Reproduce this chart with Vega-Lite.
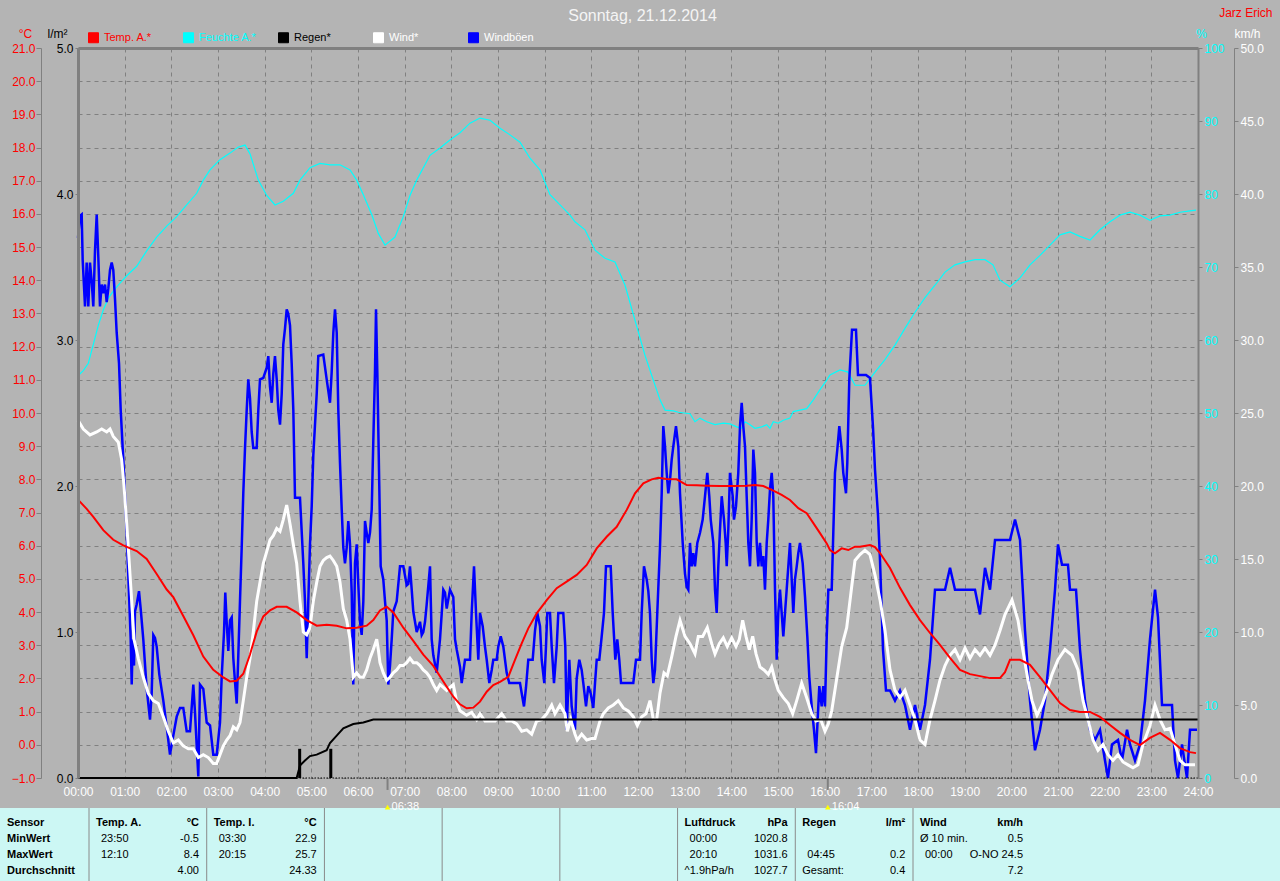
{
"$schema": "https://vega.github.io/schema/vega-lite/v6.json",
"autosize": "none",
"width": 1120,
"height": 730,
"padding": {"left": 78, "top": 48, "right": 82, "bottom": 103},
"background": "#b4b4b4",
"config": {"view": {"stroke": null}, "font": "Liberation Sans", "axis": {"labelFont": "Liberation Sans", "titleFont": "Liberation Sans"}, "text": {"font": "Liberation Sans"}},
"datasets": {
"temp": [{"h":0,"v":7.39},{"h":0.186,"v":7.11},{"h":0.328,"v":6.87},{"h":0.542,"v":6.47},{"h":0.756,"v":6.18},{"h":0.971,"v":6.01},{"h":1.258,"v":5.84},{"h":1.472,"v":5.6},{"h":1.686,"v":5.15},{"h":1.901,"v":4.68},{"h":2.042,"v":4.45},{"h":2.256,"v":3.88},{"h":2.471,"v":3.3},{"h":2.685,"v":2.66},{"h":2.899,"v":2.26},{"h":3.114,"v":2.03},{"h":3.257,"v":1.91},{"h":3.401,"v":1.93},{"h":3.542,"v":2.14},{"h":3.686,"v":2.72},{"h":3.829,"v":3.41},{"h":3.971,"v":3.87},{"h":4.114,"v":4.05},{"h":4.258,"v":4.16},{"h":4.472,"v":4.16},{"h":4.686,"v":3.99},{"h":4.901,"v":3.76},{"h":5.115,"v":3.59},{"h":5.329,"v":3.62},{"h":5.544,"v":3.59},{"h":5.758,"v":3.51},{"h":5.972,"v":3.53},{"h":6.186,"v":3.59},{"h":6.328,"v":3.76},{"h":6.471,"v":4.05},{"h":6.615,"v":4.16},{"h":6.756,"v":3.99},{"h":6.971,"v":3.53},{"h":7.185,"v":3.13},{"h":7.399,"v":2.72},{"h":7.614,"v":2.38},{"h":7.828,"v":1.91},{"h":8.042,"v":1.45},{"h":8.186,"v":1.22},{"h":8.329,"v":1.1},{"h":8.471,"v":1.12},{"h":8.614,"v":1.3},{"h":8.758,"v":1.6},{"h":8.899,"v":1.8},{"h":9.043,"v":1.9},{"h":9.221,"v":2.05},{"h":9.364,"v":2.56},{"h":9.508,"v":3.06},{"h":9.649,"v":3.51},{"h":9.829,"v":3.96},{"h":10.044,"v":4.36},{"h":10.258,"v":4.72},{"h":10.472,"v":4.92},{"h":10.686,"v":5.12},{"h":10.901,"v":5.42},{"h":11.115,"v":5.92},{"h":11.329,"v":6.27},{"h":11.544,"v":6.57},{"h":11.758,"v":7.08},{"h":11.936,"v":7.58},{"h":12.114,"v":7.88},{"h":12.294,"v":8.0},{"h":12.435,"v":8.05},{"h":12.615,"v":8.01},{"h":12.829,"v":8.0},{"h":13.044,"v":7.83},{"h":13.258,"v":7.82},{"h":13.472,"v":7.81},{"h":13.757,"v":7.8},{"h":14.042,"v":7.8},{"h":14.329,"v":7.81},{"h":14.507,"v":7.83},{"h":14.685,"v":7.8},{"h":14.899,"v":7.66},{"h":15.079,"v":7.53},{"h":15.257,"v":7.38},{"h":15.435,"v":7.13},{"h":15.615,"v":6.98},{"h":15.757,"v":6.68},{"h":15.9,"v":6.38},{"h":16.044,"v":6.07},{"h":16.114,"v":5.87},{"h":16.221,"v":5.77},{"h":16.365,"v":5.92},{"h":16.506,"v":5.87},{"h":16.65,"v":5.97},{"h":16.757,"v":5.97},{"h":16.971,"v":6.02},{"h":17.079,"v":5.96},{"h":17.186,"v":5.78},{"h":17.4,"v":5.33},{"h":17.614,"v":4.73},{"h":17.829,"v":4.21},{"h":18.043,"v":3.76},{"h":18.257,"v":3.37},{"h":18.471,"v":3.01},{"h":18.686,"v":2.62},{"h":18.9,"v":2.26},{"h":19.114,"v":2.13},{"h":19.329,"v":2.07},{"h":19.543,"v":2.01},{"h":19.757,"v":2.01},{"h":19.864,"v":2.19},{"h":19.971,"v":2.56},{"h":20.186,"v":2.56},{"h":20.4,"v":2.41},{"h":20.614,"v":2.04},{"h":20.829,"v":1.65},{"h":21.043,"v":1.26},{"h":21.257,"v":1.05},{"h":21.471,"v":0.99},{"h":21.686,"v":0.99},{"h":21.9,"v":0.84},{"h":22.114,"v":0.6},{"h":22.329,"v":0.36},{"h":22.543,"v":0.15},{"h":22.757,"v":-0.01},{"h":22.971,"v":0.21},{"h":23.186,"v":0.36},{"h":23.4,"v":0.15},{"h":23.614,"v":-0.1},{"h":23.829,"v":-0.22},{"h":23.957,"v":-0.25}],
"hum": [{"h":0,"v":55.1},{"h":0.114,"v":55.8},{"h":0.221,"v":56.8},{"h":0.328,"v":59.4},{"h":0.435,"v":62.0},{"h":0.542,"v":64.1},{"h":0.649,"v":65.7},{"h":0.756,"v":66.7},{"h":0.9,"v":67.8},{"h":1.044,"v":68.8},{"h":1.258,"v":70.1},{"h":1.472,"v":72.2},{"h":1.686,"v":74.1},{"h":1.901,"v":75.6},{"h":2.115,"v":76.9},{"h":2.329,"v":78.5},{"h":2.544,"v":80.1},{"h":2.685,"v":81.9},{"h":2.829,"v":83.3},{"h":3.043,"v":84.7},{"h":3.257,"v":85.6},{"h":3.429,"v":86.4},{"h":3.579,"v":86.7},{"h":3.686,"v":85.5},{"h":3.864,"v":81.9},{"h":4.044,"v":79.8},{"h":4.221,"v":78.5},{"h":4.399,"v":79.0},{"h":4.614,"v":80.1},{"h":4.757,"v":81.9},{"h":4.971,"v":83.6},{"h":5.186,"v":84.2},{"h":5.4,"v":84.0},{"h":5.614,"v":84.0},{"h":5.829,"v":83.3},{"h":5.972,"v":81.9},{"h":6.114,"v":79.9},{"h":6.294,"v":77.2},{"h":6.435,"v":74.6},{"h":6.579,"v":73.0},{"h":6.793,"v":74.1},{"h":6.971,"v":76.9},{"h":7.114,"v":79.8},{"h":7.258,"v":81.9},{"h":7.543,"v":85.3},{"h":7.757,"v":86.3},{"h":7.971,"v":87.4},{"h":8.186,"v":88.4},{"h":8.4,"v":89.7},{"h":8.614,"v":90.4},{"h":8.829,"v":90.1},{"h":9.043,"v":89.0},{"h":9.257,"v":88.1},{"h":9.471,"v":87.1},{"h":9.686,"v":84.9},{"h":9.9,"v":83.3},{"h":10.114,"v":79.9},{"h":10.329,"v":78.5},{"h":10.543,"v":77.1},{"h":10.65,"v":76.2},{"h":10.864,"v":75.1},{"h":11.079,"v":72.3},{"h":11.293,"v":71.2},{"h":11.507,"v":70.7},{"h":11.722,"v":67.5},{"h":11.936,"v":62.7},{"h":12.15,"v":57.9},{"h":12.328,"v":54.5},{"h":12.471,"v":51.8},{"h":12.579,"v":50.4},{"h":12.756,"v":50.3},{"h":12.864,"v":50.1},{"h":13.114,"v":49.9},{"h":13.221,"v":48.8},{"h":13.329,"v":49.3},{"h":13.472,"v":48.8},{"h":13.65,"v":48.4},{"h":13.828,"v":48.6},{"h":13.971,"v":48.5},{"h":14.115,"v":48.1},{"h":14.222,"v":47.9},{"h":14.293,"v":48.8},{"h":14.4,"v":48.4},{"h":14.507,"v":47.9},{"h":14.651,"v":48.1},{"h":14.758,"v":48.4},{"h":14.829,"v":47.9},{"h":14.899,"v":48.8},{"h":15.006,"v":48.6},{"h":15.114,"v":49.0},{"h":15.257,"v":49.3},{"h":15.328,"v":50.2},{"h":15.471,"v":50.4},{"h":15.615,"v":50.6},{"h":15.757,"v":51.8},{"h":15.9,"v":53.2},{"h":16.044,"v":54.5},{"h":16.114,"v":55.2},{"h":16.329,"v":55.9},{"h":16.5,"v":55.6},{"h":16.65,"v":53.8},{"h":16.864,"v":53.8},{"h":17.079,"v":55.6},{"h":17.293,"v":57.3},{"h":17.507,"v":59.3},{"h":17.721,"v":61.6},{"h":17.936,"v":63.8},{"h":18.15,"v":65.8},{"h":18.364,"v":67.5},{"h":18.579,"v":69.3},{"h":18.793,"v":70.3},{"h":19.007,"v":70.7},{"h":19.221,"v":71.0},{"h":19.436,"v":71.0},{"h":19.607,"v":70.3},{"h":19.757,"v":68.2},{"h":19.971,"v":67.3},{"h":20.186,"v":68.5},{"h":20.4,"v":70.3},{"h":20.614,"v":71.6},{"h":20.829,"v":73.0},{"h":21.043,"v":74.4},{"h":21.257,"v":74.8},{"h":21.471,"v":74.2},{"h":21.686,"v":73.7},{"h":21.9,"v":75.1},{"h":22.114,"v":76.2},{"h":22.329,"v":77.1},{"h":22.543,"v":77.5},{"h":22.757,"v":77.1},{"h":22.971,"v":76.4},{"h":23.186,"v":77.0},{"h":23.4,"v":77.1},{"h":23.614,"v":77.5},{"h":23.829,"v":77.7},{"h":23.957,"v":77.8}],
"wind": [{"h":0,"v":24.5},{"h":0.114,"v":23.9},{"h":0.257,"v":23.5},{"h":0.401,"v":23.7},{"h":0.508,"v":23.9},{"h":0.615,"v":23.7},{"h":0.686,"v":23.9},{"h":0.756,"v":23.4},{"h":0.864,"v":23.0},{"h":0.936,"v":21.8},{"h":0.986,"v":20.0},{"h":1.044,"v":17.4},{"h":1.099,"v":14.7},{"h":1.151,"v":12.1},{"h":1.2,"v":9.5},{"h":1.292,"v":8.2},{"h":1.399,"v":6.9},{"h":1.506,"v":5.8},{"h":1.614,"v":5.3},{"h":1.721,"v":5.1},{"h":1.828,"v":4.2},{"h":1.935,"v":3.2},{"h":2.042,"v":2.4},{"h":2.149,"v":2.6},{"h":2.256,"v":2.2},{"h":2.364,"v":2.0},{"h":2.471,"v":2.0},{"h":2.578,"v":1.4},{"h":2.685,"v":1.6},{"h":2.792,"v":1.4},{"h":2.899,"v":1.0},{"h":2.972,"v":1.0},{"h":3.043,"v":1.6},{"h":3.114,"v":2.2},{"h":3.186,"v":2.6},{"h":3.257,"v":2.9},{"h":3.328,"v":3.5},{"h":3.401,"v":3.3},{"h":3.471,"v":3.8},{"h":3.542,"v":5.3},{"h":3.615,"v":6.9},{"h":3.686,"v":8.2},{"h":3.756,"v":10.0},{"h":3.829,"v":12.1},{"h":3.9,"v":13.4},{"h":3.971,"v":14.7},{"h":4.044,"v":15.5},{"h":4.114,"v":16.3},{"h":4.185,"v":16.6},{"h":4.258,"v":17.1},{"h":4.329,"v":16.9},{"h":4.399,"v":17.7},{"h":4.472,"v":18.7},{"h":4.543,"v":17.4},{"h":4.614,"v":16.0},{"h":4.686,"v":14.7},{"h":4.757,"v":12.1},{"h":4.828,"v":10.0},{"h":4.901,"v":9.8},{"h":4.971,"v":10.3},{"h":5.042,"v":12.1},{"h":5.115,"v":13.4},{"h":5.186,"v":14.5},{"h":5.256,"v":14.9},{"h":5.329,"v":15.1},{"h":5.4,"v":15.2},{"h":5.471,"v":14.9},{"h":5.544,"v":14.5},{"h":5.614,"v":13.4},{"h":5.685,"v":11.6},{"h":5.758,"v":10.8},{"h":5.829,"v":9.5},{"h":5.899,"v":6.9},{"h":5.972,"v":7.2},{"h":6.043,"v":6.9},{"h":6.114,"v":6.9},{"h":6.186,"v":7.4},{"h":6.257,"v":8.2},{"h":6.328,"v":8.8},{"h":6.401,"v":9.5},{"h":6.435,"v":8.8},{"h":6.471,"v":7.9},{"h":6.542,"v":7.2},{"h":6.615,"v":6.7},{"h":6.686,"v":6.9},{"h":6.756,"v":7.2},{"h":6.829,"v":7.4},{"h":6.9,"v":7.7},{"h":6.971,"v":7.7},{"h":7.044,"v":7.9},{"h":7.114,"v":8.2},{"h":7.185,"v":7.9},{"h":7.258,"v":7.9},{"h":7.329,"v":7.7},{"h":7.399,"v":7.4},{"h":7.472,"v":7.2},{"h":7.543,"v":6.9},{"h":7.614,"v":6.4},{"h":7.686,"v":6.0},{"h":7.757,"v":6.4},{"h":7.828,"v":6.2},{"h":7.901,"v":6.0},{"h":7.971,"v":6.2},{"h":8.042,"v":6.4},{"h":8.115,"v":5.2},{"h":8.186,"v":4.6},{"h":8.329,"v":4.3},{"h":8.436,"v":4.5},{"h":8.544,"v":4.0},{"h":8.614,"v":4.4},{"h":8.721,"v":3.9},{"h":8.936,"v":3.9},{"h":9.079,"v":4.4},{"h":9.186,"v":3.9},{"h":9.294,"v":3.9},{"h":9.401,"v":3.7},{"h":9.508,"v":3.2},{"h":9.615,"v":3.3},{"h":9.722,"v":3.0},{"h":9.829,"v":3.9},{"h":9.936,"v":4.0},{"h":10.044,"v":4.4},{"h":10.151,"v":5.0},{"h":10.221,"v":4.4},{"h":10.329,"v":5.0},{"h":10.436,"v":4.4},{"h":10.485,"v":3.2},{"h":10.558,"v":4.0},{"h":10.65,"v":3.0},{"h":10.699,"v":2.6},{"h":10.793,"v":3.0},{"h":10.901,"v":2.6},{"h":11.008,"v":2.7},{"h":11.079,"v":2.7},{"h":11.186,"v":3.9},{"h":11.256,"v":4.4},{"h":11.364,"v":4.8},{"h":11.471,"v":5.0},{"h":11.578,"v":5.3},{"h":11.685,"v":4.8},{"h":11.792,"v":4.6},{"h":11.899,"v":4.2},{"h":11.985,"v":3.6},{"h":12.079,"v":4.2},{"h":12.171,"v":4.4},{"h":12.257,"v":5.3},{"h":12.328,"v":4.0},{"h":12.401,"v":4.0},{"h":12.471,"v":5.8},{"h":12.557,"v":7.2},{"h":12.628,"v":7.0},{"h":12.722,"v":8.3},{"h":12.814,"v":9.7},{"h":12.9,"v":10.8},{"h":13.007,"v":9.7},{"h":13.114,"v":9.2},{"h":13.221,"v":8.5},{"h":13.292,"v":9.7},{"h":13.386,"v":9.7},{"h":13.485,"v":10.3},{"h":13.579,"v":9.2},{"h":13.65,"v":8.5},{"h":13.742,"v":9.2},{"h":13.828,"v":9.6},{"h":13.914,"v":9.0},{"h":14.008,"v":9.6},{"h":14.1,"v":9.0},{"h":14.171,"v":9.5},{"h":14.243,"v":10.8},{"h":14.314,"v":9.7},{"h":14.385,"v":8.8},{"h":14.457,"v":9.7},{"h":14.529,"v":8.5},{"h":14.614,"v":7.6},{"h":14.7,"v":7.4},{"h":14.792,"v":7.1},{"h":14.865,"v":7.6},{"h":14.936,"v":6.7},{"h":15.006,"v":6.0},{"h":15.114,"v":5.5},{"h":15.221,"v":5.1},{"h":15.315,"v":4.4},{"h":15.401,"v":5.3},{"h":15.508,"v":6.5},{"h":15.615,"v":5.5},{"h":15.722,"v":4.4},{"h":15.814,"v":3.9},{"h":15.915,"v":4.0},{"h":16.007,"v":3.2},{"h":16.078,"v":3.7},{"h":16.151,"v":4.6},{"h":16.258,"v":6.8},{"h":16.365,"v":9.0},{"h":16.472,"v":10.3},{"h":16.579,"v":13.1},{"h":16.65,"v":14.9},{"h":16.757,"v":15.3},{"h":16.864,"v":15.6},{"h":16.971,"v":15.3},{"h":17.079,"v":13.9},{"h":17.186,"v":12.2},{"h":17.293,"v":10.1},{"h":17.4,"v":7.4},{"h":17.507,"v":6.0},{"h":17.614,"v":5.5},{"h":17.721,"v":6.0},{"h":17.829,"v":5.0},{"h":17.936,"v":4.0},{"h":18.043,"v":2.6},{"h":18.15,"v":2.3},{"h":18.257,"v":4.0},{"h":18.364,"v":5.3},{"h":18.471,"v":6.7},{"h":18.579,"v":7.7},{"h":18.686,"v":8.4},{"h":18.793,"v":8.8},{"h":18.9,"v":8.1},{"h":19.007,"v":8.9},{"h":19.114,"v":8.2},{"h":19.221,"v":8.8},{"h":19.329,"v":8.4},{"h":19.436,"v":8.9},{"h":19.543,"v":8.4},{"h":19.65,"v":9.1},{"h":19.757,"v":10.1},{"h":19.864,"v":11.2},{"h":20.014,"v":12.2},{"h":20.143,"v":10.8},{"h":20.229,"v":9.1},{"h":20.357,"v":6.7},{"h":20.443,"v":5.3},{"h":20.55,"v":4.3},{"h":20.657,"v":5.0},{"h":20.764,"v":6.0},{"h":20.871,"v":7.1},{"h":21.0,"v":8.1},{"h":21.15,"v":8.8},{"h":21.3,"v":8.4},{"h":21.429,"v":7.4},{"h":21.536,"v":5.3},{"h":21.643,"v":4.0},{"h":21.75,"v":2.6},{"h":21.857,"v":1.9},{"h":21.964,"v":2.3},{"h":22.071,"v":1.6},{"h":22.178,"v":1.2},{"h":22.286,"v":1.6},{"h":22.393,"v":1.1},{"h":22.5,"v":0.9},{"h":22.607,"v":0.7},{"h":22.714,"v":0.9},{"h":22.821,"v":2.3},{"h":22.971,"v":3.6},{"h":23.079,"v":5.0},{"h":23.186,"v":4.0},{"h":23.293,"v":3.3},{"h":23.4,"v":3.4},{"h":23.507,"v":2.3},{"h":23.614,"v":1.2},{"h":23.721,"v":0.9},{"h":23.936,"v":0.9}],
"gust": [{"h":0,"v":37.0},{"h":0.043,"v":38.5},{"h":0.079,"v":38.6},{"h":0.1,"v":35.5},{"h":0.15,"v":32.3},{"h":0.186,"v":35.3},{"h":0.221,"v":32.3},{"h":0.257,"v":35.3},{"h":0.294,"v":34.0},{"h":0.328,"v":32.3},{"h":0.364,"v":36.1},{"h":0.401,"v":38.6},{"h":0.435,"v":35.7},{"h":0.471,"v":32.3},{"h":0.508,"v":33.8},{"h":0.542,"v":33.2},{"h":0.579,"v":33.8},{"h":0.615,"v":32.6},{"h":0.649,"v":33.5},{"h":0.686,"v":34.8},{"h":0.722,"v":35.3},{"h":0.756,"v":34.8},{"h":0.793,"v":32.8},{"h":0.829,"v":30.5},{"h":0.879,"v":28.4},{"h":0.915,"v":25.2},{"h":0.971,"v":21.8},{"h":1.044,"v":16.8},{"h":1.099,"v":12.1},{"h":1.129,"v":9.5},{"h":1.151,"v":6.4},{"h":1.172,"v":9.5},{"h":1.2,"v":7.7},{"h":1.221,"v":11.4},{"h":1.258,"v":11.9},{"h":1.307,"v":12.8},{"h":1.343,"v":11.6},{"h":1.399,"v":9.5},{"h":1.472,"v":6.1},{"h":1.543,"v":4.0},{"h":1.579,"v":5.8},{"h":1.614,"v":9.8},{"h":1.65,"v":9.6},{"h":1.686,"v":9.0},{"h":1.742,"v":7.1},{"h":1.828,"v":5.3},{"h":1.901,"v":3.5},{"h":1.971,"v":1.6},{"h":2.042,"v":2.9},{"h":2.115,"v":4.2},{"h":2.186,"v":4.8},{"h":2.256,"v":4.8},{"h":2.329,"v":3.2},{"h":2.4,"v":3.2},{"h":2.471,"v":6.4},{"h":2.507,"v":4.5},{"h":2.544,"v":2.2},{"h":2.578,"v":0.1},{"h":2.614,"v":6.4},{"h":2.685,"v":6.1},{"h":2.758,"v":3.8},{"h":2.829,"v":3.6},{"h":2.899,"v":1.6},{"h":2.972,"v":1.6},{"h":3.043,"v":3.8},{"h":3.079,"v":6.9},{"h":3.129,"v":10.0},{"h":3.156,"v":12.7},{"h":3.186,"v":10.7},{"h":3.221,"v":8.7},{"h":3.257,"v":10.8},{"h":3.294,"v":11.0},{"h":3.328,"v":8.2},{"h":3.364,"v":6.6},{"h":3.401,"v":5.1},{"h":3.435,"v":8.4},{"h":3.471,"v":12.1},{"h":3.508,"v":15.8},{"h":3.542,"v":19.5},{"h":3.579,"v":22.6},{"h":3.615,"v":25.2},{"h":3.649,"v":27.3},{"h":3.686,"v":26.0},{"h":3.722,"v":23.7},{"h":3.756,"v":22.6},{"h":3.829,"v":22.6},{"h":3.864,"v":25.2},{"h":3.9,"v":27.3},{"h":3.971,"v":27.4},{"h":4.044,"v":28.1},{"h":4.078,"v":28.9},{"h":4.114,"v":26.8},{"h":4.151,"v":25.7},{"h":4.185,"v":27.7},{"h":4.221,"v":28.9},{"h":4.258,"v":27.3},{"h":4.292,"v":25.2},{"h":4.329,"v":24.2},{"h":4.365,"v":26.3},{"h":4.399,"v":29.7},{"h":4.436,"v":30.8},{"h":4.472,"v":32.1},{"h":4.506,"v":31.8},{"h":4.543,"v":31.0},{"h":4.579,"v":28.4},{"h":4.614,"v":25.2},{"h":4.65,"v":19.2},{"h":4.757,"v":19.2},{"h":4.828,"v":14.7},{"h":4.864,"v":12.1},{"h":4.901,"v":8.2},{"h":4.935,"v":12.1},{"h":4.971,"v":16.0},{"h":5.008,"v":18.6},{"h":5.042,"v":22.1},{"h":5.115,"v":26.3},{"h":5.149,"v":28.9},{"h":5.256,"v":29.0},{"h":5.329,"v":27.3},{"h":5.4,"v":25.7},{"h":5.436,"v":27.8},{"h":5.471,"v":30.5},{"h":5.507,"v":32.1},{"h":5.544,"v":30.5},{"h":5.578,"v":25.2},{"h":5.614,"v":21.6},{"h":5.651,"v":18.4},{"h":5.685,"v":15.8},{"h":5.721,"v":14.7},{"h":5.758,"v":15.8},{"h":5.792,"v":17.6},{"h":5.829,"v":16.0},{"h":5.865,"v":12.7},{"h":5.899,"v":6.4},{"h":5.936,"v":14.7},{"h":5.972,"v":16.0},{"h":6.006,"v":13.3},{"h":6.043,"v":10.7},{"h":6.079,"v":9.8},{"h":6.114,"v":12.1},{"h":6.15,"v":17.6},{"h":6.186,"v":16.8},{"h":6.221,"v":16.1},{"h":6.257,"v":16.8},{"h":6.294,"v":18.4},{"h":6.328,"v":23.1},{"h":6.364,"v":27.8},{"h":6.386,"v":32.1},{"h":6.414,"v":27.8},{"h":6.456,"v":20.0},{"h":6.486,"v":14.5},{"h":6.542,"v":13.6},{"h":6.579,"v":12.1},{"h":6.615,"v":10.8},{"h":6.649,"v":6.4},{"h":6.686,"v":7.7},{"h":6.722,"v":9.5},{"h":6.756,"v":11.4},{"h":6.829,"v":12.1},{"h":6.9,"v":14.5},{"h":6.971,"v":14.5},{"h":7.044,"v":13.2},{"h":7.078,"v":13.3},{"h":7.114,"v":14.5},{"h":7.151,"v":12.9},{"h":7.185,"v":11.4},{"h":7.258,"v":10.0},{"h":7.329,"v":10.7},{"h":7.365,"v":9.8},{"h":7.399,"v":10.0},{"h":7.436,"v":10.7},{"h":7.472,"v":11.9},{"h":7.543,"v":14.5},{"h":7.579,"v":9.5},{"h":7.614,"v":8.4},{"h":7.686,"v":7.2},{"h":7.757,"v":9.5},{"h":7.828,"v":12.9},{"h":7.864,"v":12.7},{"h":7.901,"v":11.6},{"h":7.971,"v":12.9},{"h":8.042,"v":12.4},{"h":8.079,"v":9.5},{"h":8.115,"v":8.8},{"h":8.186,"v":7.6},{"h":8.222,"v":6.5},{"h":8.293,"v":8.1},{"h":8.4,"v":8.1},{"h":8.436,"v":11.3},{"h":8.486,"v":14.5},{"h":8.529,"v":11.3},{"h":8.578,"v":8.1},{"h":8.614,"v":11.3},{"h":8.672,"v":10.4},{"h":8.721,"v":9.0},{"h":8.758,"v":8.1},{"h":8.814,"v":6.5},{"h":8.865,"v":7.4},{"h":8.899,"v":8.1},{"h":8.972,"v":8.1},{"h":9.006,"v":9.0},{"h":9.058,"v":9.7},{"h":9.114,"v":9.0},{"h":9.186,"v":7.2},{"h":9.242,"v":6.5},{"h":9.471,"v":6.5},{"h":9.508,"v":5.8},{"h":9.557,"v":4.9},{"h":9.6,"v":6.2},{"h":9.649,"v":8.1},{"h":9.743,"v":8.1},{"h":9.793,"v":10.1},{"h":9.842,"v":11.3},{"h":9.9,"v":10.4},{"h":9.936,"v":8.1},{"h":9.992,"v":6.5},{"h":10.028,"v":9.0},{"h":10.056,"v":11.3},{"h":10.114,"v":11.3},{"h":10.151,"v":9.0},{"h":10.2,"v":6.5},{"h":10.258,"v":9.0},{"h":10.292,"v":11.3},{"h":10.399,"v":11.3},{"h":10.442,"v":9.0},{"h":10.472,"v":3.3},{"h":10.528,"v":8.1},{"h":10.579,"v":4.9},{"h":10.65,"v":3.3},{"h":10.686,"v":6.8},{"h":10.742,"v":8.1},{"h":10.793,"v":7.4},{"h":10.828,"v":6.5},{"h":10.886,"v":4.9},{"h":10.935,"v":6.3},{"h":10.986,"v":5.8},{"h":11.042,"v":4.8},{"h":11.079,"v":6.5},{"h":11.115,"v":8.1},{"h":11.171,"v":8.1},{"h":11.222,"v":9.7},{"h":11.271,"v":11.3},{"h":11.314,"v":14.5},{"h":11.415,"v":14.5},{"h":11.458,"v":11.3},{"h":11.486,"v":9.7},{"h":11.514,"v":8.1},{"h":11.556,"v":9.5},{"h":11.599,"v":8.1},{"h":11.636,"v":6.5},{"h":11.899,"v":6.5},{"h":11.957,"v":8.1},{"h":12.043,"v":8.1},{"h":12.079,"v":11.3},{"h":12.128,"v":14.5},{"h":12.186,"v":13.6},{"h":12.221,"v":12.8},{"h":12.257,"v":11.3},{"h":12.294,"v":8.1},{"h":12.328,"v":6.5},{"h":12.364,"v":7.4},{"h":12.413,"v":11.3},{"h":12.471,"v":15.8},{"h":12.508,"v":19.5},{"h":12.542,"v":24.1},{"h":12.579,"v":22.7},{"h":12.615,"v":20.9},{"h":12.649,"v":19.5},{"h":12.686,"v":20.4},{"h":12.722,"v":21.8},{"h":12.756,"v":22.7},{"h":12.814,"v":24.1},{"h":12.864,"v":22.7},{"h":12.9,"v":19.5},{"h":12.958,"v":16.1},{"h":13.007,"v":14.0},{"h":13.044,"v":13.1},{"h":13.078,"v":12.9},{"h":13.114,"v":16.1},{"h":13.151,"v":14.5},{"h":13.185,"v":15.4},{"h":13.221,"v":14.5},{"h":13.271,"v":16.1},{"h":13.329,"v":16.8},{"h":13.386,"v":17.7},{"h":13.436,"v":19.3},{"h":13.485,"v":20.9},{"h":13.528,"v":19.3},{"h":13.558,"v":17.7},{"h":13.614,"v":16.1},{"h":13.65,"v":12.9},{"h":13.686,"v":11.3},{"h":13.721,"v":14.5},{"h":13.757,"v":17.0},{"h":13.794,"v":19.3},{"h":13.843,"v":17.7},{"h":13.879,"v":16.1},{"h":13.901,"v":14.5},{"h":13.935,"v":17.0},{"h":13.971,"v":20.9},{"h":14.029,"v":19.3},{"h":14.057,"v":17.7},{"h":14.1,"v":18.6},{"h":14.149,"v":20.9},{"h":14.186,"v":24.1},{"h":14.222,"v":25.7},{"h":14.256,"v":24.1},{"h":14.293,"v":22.7},{"h":14.329,"v":19.3},{"h":14.364,"v":16.1},{"h":14.4,"v":14.5},{"h":14.436,"v":17.7},{"h":14.471,"v":22.5},{"h":14.507,"v":20.9},{"h":14.544,"v":16.1},{"h":14.578,"v":14.5},{"h":14.614,"v":16.1},{"h":14.651,"v":14.5},{"h":14.685,"v":15.2},{"h":14.721,"v":12.9},{"h":14.758,"v":16.1},{"h":14.792,"v":17.7},{"h":14.829,"v":19.8},{"h":14.865,"v":20.9},{"h":14.899,"v":19.3},{"h":14.936,"v":12.9},{"h":14.972,"v":8.1},{"h":15.006,"v":11.3},{"h":15.043,"v":12.9},{"h":15.079,"v":11.3},{"h":15.114,"v":9.7},{"h":15.15,"v":11.3},{"h":15.186,"v":12.9},{"h":15.221,"v":14.5},{"h":15.257,"v":16.1},{"h":15.294,"v":13.6},{"h":15.328,"v":11.3},{"h":15.364,"v":13.6},{"h":15.401,"v":14.5},{"h":15.435,"v":15.4},{"h":15.471,"v":16.1},{"h":15.529,"v":14.7},{"h":15.579,"v":12.4},{"h":15.628,"v":9.7},{"h":15.671,"v":6.9},{"h":15.722,"v":4.9},{"h":15.771,"v":3.3},{"h":15.814,"v":1.7},{"h":15.842,"v":3.5},{"h":15.885,"v":6.3},{"h":15.936,"v":4.9},{"h":15.97,"v":6.3},{"h":16.007,"v":4.9},{"h":16.044,"v":9.7},{"h":16.078,"v":12.9},{"h":16.151,"v":12.9},{"h":16.185,"v":16.8},{"h":16.221,"v":20.9},{"h":16.271,"v":22.5},{"h":16.314,"v":24.1},{"h":16.365,"v":22.5},{"h":16.399,"v":20.9},{"h":16.457,"v":19.5},{"h":16.485,"v":21.6},{"h":16.528,"v":27.3},{"h":16.586,"v":30.7},{"h":16.671,"v":30.7},{"h":16.714,"v":27.6},{"h":16.886,"v":27.6},{"h":16.971,"v":27.4},{"h":17.036,"v":24.0},{"h":17.079,"v":21.1},{"h":17.143,"v":18.0},{"h":17.186,"v":14.9},{"h":17.25,"v":8.8},{"h":17.314,"v":6.0},{"h":17.4,"v":6.0},{"h":17.507,"v":5.3},{"h":17.614,"v":6.0},{"h":17.721,"v":5.0},{"h":17.829,"v":3.3},{"h":17.936,"v":5.0},{"h":18.043,"v":3.3},{"h":18.15,"v":5.0},{"h":18.257,"v":8.1},{"h":18.364,"v":12.9},{"h":18.579,"v":12.9},{"h":18.686,"v":14.4},{"h":18.793,"v":12.9},{"h":19.221,"v":12.9},{"h":19.329,"v":11.2},{"h":19.436,"v":14.4},{"h":19.543,"v":12.9},{"h":19.65,"v":16.3},{"h":19.971,"v":16.3},{"h":20.079,"v":17.7},{"h":20.186,"v":16.3},{"h":20.293,"v":10.1},{"h":20.4,"v":5.3},{"h":20.507,"v":1.9},{"h":20.614,"v":3.3},{"h":20.721,"v":5.3},{"h":20.829,"v":8.8},{"h":20.936,"v":12.9},{"h":21.0,"v":16.0},{"h":21.086,"v":14.6},{"h":21.214,"v":14.6},{"h":21.257,"v":12.9},{"h":21.386,"v":12.9},{"h":21.471,"v":8.8},{"h":21.579,"v":5.3},{"h":21.686,"v":3.3},{"h":21.793,"v":2.6},{"h":21.9,"v":3.3},{"h":22.007,"v":1.2},{"h":22.071,"v":0},{"h":22.157,"v":2.3},{"h":22.286,"v":2.6},{"h":22.371,"v":1.2},{"h":22.479,"v":3.3},{"h":22.543,"v":2.3},{"h":22.65,"v":1.2},{"h":22.757,"v":2.3},{"h":22.864,"v":5.3},{"h":22.971,"v":9.5},{"h":23.079,"v":12.9},{"h":23.143,"v":11.0},{"h":23.229,"v":5.0},{"h":23.443,"v":5.0},{"h":23.507,"v":1.2},{"h":23.571,"v":0},{"h":23.657,"v":2.3},{"h":23.764,"v":0},{"h":23.829,"v":3.3},{"h":23.979,"v":3.3}],
"rain": [{"h":0,"v":0},{"h":4.686,"v":0},{"h":4.757,"v":0.086},{"h":4.864,"v":0.12},{"h":4.971,"v":0.15},{"h":5.115,"v":0.16},{"h":5.329,"v":0.19},{"h":5.4,"v":0.24},{"h":5.544,"v":0.29},{"h":5.685,"v":0.34},{"h":5.899,"v":0.37},{"h":6.114,"v":0.38},{"h":6.328,"v":0.4},{"h":24,"v":0.4}],
"rainbars": [{"h":4.75,"v":0.2},{"h":5.417,"v":0.2}],
"rainrate": [{"h":4.75,"h2":24,"v":0}],
"sun": [{"t":6.633,"lab":"06:38"},{"t":16.067,"lab":"16:04"}],
"seps": [{"col":1},{"col":2},{"col":3},{"col":4},{"col":5},{"col":6},{"col":7},{"col":8}],
"stats": [
{"row":0,"col":0,"lab":"Sensor","val":""},
{"row":0,"col":1,"lab":"Temp. A.","val":"°C"},
{"row":0,"col":2,"lab":"Temp. I.","val":"°C"},
{"row":0,"col":6,"lab":"Luftdruck","val":"hPa"},
{"row":0,"col":7,"lab":"Regen","val":"l/m²"},
{"row":0,"col":8,"lab":"Wind","val":"km/h"},
{"row":1,"col":0,"lab":"MinWert","val":""},
{"row":1,"col":1,"lab":"23:50","val":"-0.5"},
{"row":1,"col":2,"lab":"03:30","val":"22.9"},
{"row":1,"col":6,"lab":"00:00","val":"1020.8"},
{"row":1,"col":8,"lab":"Ø 10 min.","val":"0.5"},
{"row":2,"col":0,"lab":"MaxWert","val":""},
{"row":2,"col":1,"lab":"12:10","val":"8.4"},
{"row":2,"col":2,"lab":"20:15","val":"25.7"},
{"row":2,"col":6,"lab":"20:10","val":"1031.6"},
{"row":2,"col":7,"lab":"04:45","val":"0.2"},
{"row":2,"col":8,"lab":"00:00","val":"O-NO 24.5"},
{"row":3,"col":0,"lab":"Durchschnitt","val":""},
{"row":3,"col":1,"lab":"","val":"4.00"},
{"row":3,"col":2,"lab":"","val":"24.33"},
{"row":3,"col":6,"lab":"^1.9hPa/h","val":"1027.7"},
{"row":3,"col":7,"lab":"Gesamt:","val":"0.4"},
{"row":3,"col":8,"lab":"","val":"7.2"}
]
},
"layer": [
{
"data": {"values": [{"panel": "stats"}]},
"mark": {"type": "rect", "fill": "#ccf7f4", "strokeWidth": 0},
"encoding": {
"x": {"datum": -1, "type": "quantitative", "scale": {"domain": [0, 1, 8], "range": [-78, 11, 835], "nice": false, "zero": false}, "axis": null},
"x2": {"datum": 12},
"y": {"datum": -0.875, "type": "quantitative", "scale": {"domain": [0, 1], "range": [774, 790], "nice": false, "zero": false}, "axis": null},
"y2": {"datum": 3.8}
}
},
{
"data": {"name": "seps"},
"mark": {"type": "rule", "color": "#8a8a8a", "strokeWidth": 1},
"encoding": {
"x": {"field": "col", "type": "quantitative", "scale": {"domain": [0, 1, 8], "range": [-78, 11, 835], "nice": false, "zero": false}, "axis": null},
"y": {"datum": -0.875, "type": "quantitative", "scale": {"domain": [0, 1], "range": [774, 790], "nice": false, "zero": false}, "axis": null},
"y2": {"datum": 3.8}
}
},
{
"data": {"name": "stats"},
"transform": [{"filter": "datum.row === 0 || datum.col === 0"}],
"mark": {"type": "text", "align": "left", "baseline": "middle", "dx": 7, "dy": 1, "fontSize": 11, "fontWeight": "bold", "color": "#000000"},
"encoding": {
"x": {"field": "col", "type": "quantitative", "scale": {"domain": [0, 1, 8], "range": [-78, 11, 835], "nice": false, "zero": false}, "axis": null},
"y": {"field": "row", "type": "quantitative", "scale": {"domain": [0, 1], "range": [774, 790], "nice": false, "zero": false}, "axis": null},
"text": {"field": "lab"}
}
},
{
"data": {"name": "stats"},
"transform": [{"filter": "datum.row !== 0 && datum.col !== 0 && !test(/^[0-9][0-9]:[0-9][0-9]$/, datum.lab)"}],
"mark": {"type": "text", "align": "left", "baseline": "middle", "dx": 7, "dy": 1, "fontSize": 11, "color": "#000000"},
"encoding": {
"x": {"field": "col", "type": "quantitative", "scale": {"domain": [0, 1, 8], "range": [-78, 11, 835], "nice": false, "zero": false}, "axis": null},
"y": {"field": "row", "type": "quantitative", "scale": {"domain": [0, 1], "range": [774, 790], "nice": false, "zero": false}, "axis": null},
"text": {"field": "lab"}
}
},
{
"data": {"name": "stats"},
"transform": [{"filter": "datum.row !== 0 && datum.col !== 0 && test(/^[0-9][0-9]:[0-9][0-9]$/, datum.lab)"}],
"mark": {"type": "text", "align": "left", "baseline": "middle", "dx": 12, "dy": 1, "fontSize": 11, "color": "#000000"},
"encoding": {
"x": {"field": "col", "type": "quantitative", "scale": {"domain": [0, 1, 8], "range": [-78, 11, 835], "nice": false, "zero": false}, "axis": null},
"y": {"field": "row", "type": "quantitative", "scale": {"domain": [0, 1], "range": [774, 790], "nice": false, "zero": false}, "axis": null},
"text": {"field": "lab"}
}
},
{
"data": {"name": "stats"},
"transform": [{"filter": "datum.row === 0"}],
"mark": {"type": "text", "align": "right", "baseline": "middle", "dx": 110, "dy": 1, "fontSize": 11, "fontWeight": "bold", "color": "#000000"},
"encoding": {
"x": {"field": "col", "type": "quantitative", "scale": {"domain": [0, 1, 8], "range": [-78, 11, 835], "nice": false, "zero": false}, "axis": null},
"y": {"field": "row", "type": "quantitative", "scale": {"domain": [0, 1], "range": [774, 790], "nice": false, "zero": false}, "axis": null},
"text": {"field": "val"}
}
},
{
"data": {"name": "stats"},
"transform": [{"filter": "datum.row !== 0"}],
"mark": {"type": "text", "align": "right", "baseline": "middle", "dx": 110, "dy": 1, "fontSize": 11, "color": "#000000"},
"encoding": {
"x": {"field": "col", "type": "quantitative", "scale": {"domain": [0, 1, 8], "range": [-78, 11, 835], "nice": false, "zero": false}, "axis": null},
"y": {"field": "row", "type": "quantitative", "scale": {"domain": [0, 1], "range": [774, 790], "nice": false, "zero": false}, "axis": null},
"text": {"field": "val"}
}
},
{
"data": {"name": "hum"},
"mark": {"type": "line", "strokeWidth": 1.2},
"encoding": {
"x": {"field": "h", "type": "quantitative", "scale": {"domain": [0, 24], "nice": false, "zero": false},
 "axis": {"orient": "top", "labels": false, "ticks": false, "grid": false, "domain": true, "domainColor": "#808080", "domainWidth": 3, "title": "Jarz Erich", "titleColor": "#ff0000", "titleFontSize": 12, "titleFontWeight": "normal", "titleX": 1194, "titleY": -36, "titleAlign": "right", "titleBaseline": "middle", "zindex": 1}},
"y": {"field": "v", "type": "quantitative", "scale": {"domain": [0, 100], "nice": false, "zero": false},
 "axis": {"orient": "right", "values": [0,10,20,30,40,50,60,70,80,90,100], "format": "d", "labelColor": "#00ffff", "labelFontSize": 12, "tickSize": 4, "labelPadding": 2, "tickColor": "#808080", "domainColor": "#808080", "domainWidth": 2, "grid": false, "title": "%", "titleColor": "#00ffff", "titleFontSize": 12, "titleFontWeight": "normal", "titleAngle": 0, "titleX": 3, "titleY": -15, "titleAlign": "center", "titleBaseline": "middle", "zindex": 1}},
"color": {"datum": "Feuchte A.*", "type": "nominal",
 "scale": {"domain": ["Temp. A.*", "Feuchte A.*", "Regen*", "Wind*", "Windböen"], "range": ["#ff0000", "#00ffff", "#000000", "#ffffff", "#0000ff"]},
 "legend": {"orient": "none", "legendX": 10, "legendY": -16, "direction": "horizontal", "columns": 5, "title": null, "padding": 0, "symbolType": "square", "symbolSize": 100, "symbolStrokeColor": "#ffffff", "symbolStrokeWidth": 1, "labelFontSize": 11, "labelFont": "Liberation Sans", "labelOffset": 5, "columnPadding": 19, "gridAlign": "all",
  "encode": {"symbols": {"update": {"fill": {"scale": "color", "field": "value"}, "stroke": {"value": "#ffffff"}, "strokeWidth": {"value": 1}, "opacity": {"value": 1}}},
             "labels": {"update": {"fill": {"signal": "datum.label === 'Windböen' ? '#ffffff' : scale('color', datum.value)"}}}}}}
}
},
{
"data": {"name": "gust"},
"mark": {"type": "line", "strokeWidth": 2.5},
"encoding": {
"x": {"field": "h", "type": "quantitative", "scale": {"domain": [0, 24], "nice": false, "zero": false}, "axis": null},
"y": {"field": "v", "type": "quantitative", "scale": {"domain": [0, 50], "nice": false, "zero": false}, "axis": null},
"color": {"datum": "Windböen", "type": "nominal"}
}
},
{
"data": {"name": "wind"},
"mark": {"type": "line", "strokeWidth": 3},
"encoding": {
"x": {"field": "h", "type": "quantitative", "scale": {"domain": [0, 24], "nice": false, "zero": false}, "axis": null},
"y": {"field": "v", "type": "quantitative", "scale": {"domain": [0, 50], "nice": false, "zero": false},
 "axis": {"orient": "right", "offset": 36, "values": [0,5,10,15,20,25,30,35,40,45,50], "format": ".1f", "labelColor": "#ffffff", "labelFontSize": 12, "tickSize": 4, "labelPadding": 2, "tickColor": "#808080", "domainColor": "#808080", "domainWidth": 1, "grid": false, "title": "km/h", "titleColor": "#ffffff", "titleFontSize": 12, "titleFontWeight": "normal", "titleAngle": 0, "titleX": 13, "titleY": -15, "titleAlign": "center", "titleBaseline": "middle"}},
"color": {"datum": "Wind*", "type": "nominal"}
}
},
{
"data": {"name": "rain"},
"mark": {"type": "line", "strokeWidth": 2},
"encoding": {
"x": {"field": "h", "type": "quantitative", "scale": {"domain": [0, 24], "nice": false, "zero": false}, "axis": null},
"y": {"field": "v", "type": "quantitative", "scale": {"domain": [0, 5], "nice": false, "zero": false},
 "axis": {"orient": "left", "offset": 0, "values": [0,1,2,3,4,5], "format": ".1f", "labelColor": "#000000", "labelFontSize": 12, "tickSize": 3, "labelPadding": 2, "tickColor": "#808080", "domainColor": "#808080", "domainWidth": 3, "grid": false, "title": "l/m²", "titleColor": "#000000", "titleFontSize": 12, "titleFontWeight": "normal", "titleAngle": 0, "titleX": -21, "titleY": -15, "titleAlign": "center", "titleBaseline": "middle", "zindex": 1}},
"color": {"datum": "Regen*", "type": "nominal"}
}
},
{
"data": {"name": "rainbars"},
"mark": {"type": "rule", "color": "#000000", "strokeWidth": 3},
"encoding": {
"x": {"field": "h", "type": "quantitative", "scale": {"domain": [0, 24], "nice": false, "zero": false}, "axis": null},
"y": {"field": "v", "type": "quantitative", "scale": {"domain": [0, 5], "nice": false, "zero": false}, "axis": null},
"y2": {"datum": 0}
}
},
{
"data": {"name": "rainrate"},
"mark": {"type": "rule", "color": "#000000", "strokeWidth": 1.5, "strokeDash": [1, 2]},
"encoding": {
"x": {"field": "h", "type": "quantitative", "scale": {"domain": [0, 24], "nice": false, "zero": false}, "axis": null},
"x2": {"field": "h2"},
"y": {"field": "v", "type": "quantitative", "scale": {"domain": [0, 5], "nice": false, "zero": false}, "axis": null}
}
},
{
"data": {"name": "temp"},
"mark": {"type": "line", "strokeWidth": 2},
"encoding": {
"x": {"field": "h", "type": "quantitative", "scale": {"domain": [0, 24], "nice": false, "zero": false},
 "axis": {"orient": "bottom", "values": [0,1,2,3,4,5,6,7,8,9,10,11,12,13,14,15,16,17,18,19,20,21,22,23,24], "labelExpr": "(datum.value < 10 ? '0' : '') + datum.value + ':00'", "labelColor": "#ffffff", "labelFontSize": 12, "labelPadding": 8, "labelFlush": false, "labelOverlap": false, "ticks": false, "domain": false, "grid": true, "gridColor": "#808080", "gridDash": [4, 4], "gridWidth": 1, "title": "Sonntag, 21.12.2014", "titleColor": "#f4f4f4", "titleFontSize": 16, "titleFontWeight": "normal", "titleX": 564, "titleY": -763, "titleAlign": "center", "titleBaseline": "middle", "zindex": 0}},
"y": {"field": "v", "type": "quantitative", "scale": {"domain": [-1, 21], "nice": false, "zero": false},
 "axis": {"orient": "left", "offset": 37, "values": [-1,0,1,2,3,4,5,6,7,8,9,10,11,12,13,14,15,16,17,18,19,20,21], "format": ".1f", "labelColor": "#ff0000", "labelFontSize": 12, "labelPadding": 1, "tickSize": 5, "tickColor": "#808080", "domainColor": "#808080", "domainWidth": 1, "grid": true, "gridColor": "#808080", "gridDash": [4, 4], "gridWidth": 1, "title": "°C", "titleColor": "#ff0000", "titleFontSize": 12, "titleFontWeight": "normal", "titleAngle": 0, "titleX": -16, "titleY": -15, "titleAlign": "center", "titleBaseline": "middle", "zindex": 0}},
"color": {"datum": "Temp. A.*", "type": "nominal"}
}
},
{
"data": {"name": "sun"},
"mark": {"type": "rule", "color": "#808080", "strokeWidth": 2},
"encoding": {
"x": {"field": "t", "type": "quantitative", "scale": {"domain": [0, 24], "nice": false, "zero": false}, "axis": null},
"y": {"datum": -1, "type": "quantitative", "scale": {"domain": [-1, 21], "nice": false, "zero": false}, "axis": null},
"y2": {"datum": -1.36}
}
},
{
"data": {"name": "sun"},
"mark": {"type": "point", "shape": "triangle-up", "filled": true, "color": "#ffff00", "size": 30, "opacity": 1},
"encoding": {
"x": {"field": "t", "type": "quantitative", "scale": {"domain": [0, 24], "nice": false, "zero": false}, "axis": null},
"y": {"datum": -1.88, "type": "quantitative", "scale": {"domain": [-1, 21], "nice": false, "zero": false}, "axis": null}
}
},
{
"data": {"name": "sun"},
"mark": {"type": "text", "align": "left", "baseline": "middle", "dx": 4, "fontSize": 11, "color": "#ffffff"},
"encoding": {
"x": {"field": "t", "type": "quantitative", "scale": {"domain": [0, 24], "nice": false, "zero": false}, "axis": null},
"y": {"datum": -1.86, "type": "quantitative", "scale": {"domain": [-1, 21], "nice": false, "zero": false}, "axis": null},
"text": {"field": "lab"}
}
}
],
"resolve": {"scale": {"x": "independent", "y": "independent"}}
}
